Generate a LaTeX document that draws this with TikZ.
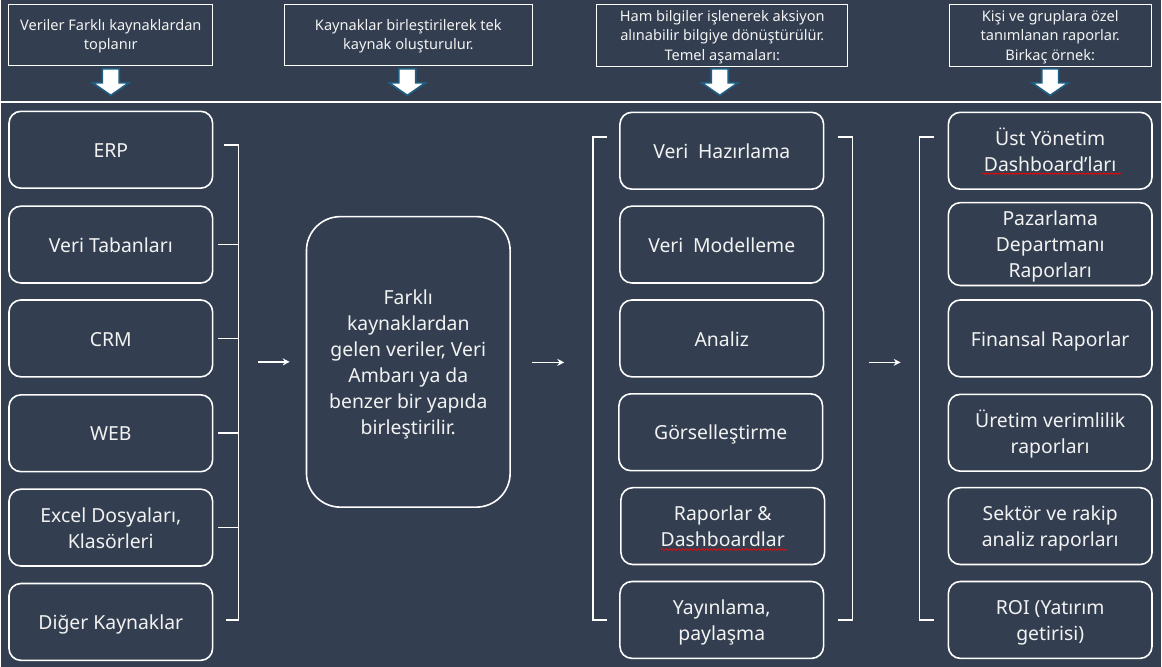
\documentclass[tikz,border=0pt]{standalone}
\usepackage{fontspec}
\setmainfont{Noto Sans}
\usetikzlibrary{arrows.meta,decorations.pathmorphing,calc}
\definecolor{bg}{HTML}{333F50}
\definecolor{arrowedge}{HTML}{1F5F84}
\definecolor{txt}{HTML}{F2F2F2}
\newcommand\boxtxt[2][5pt]{\raisebox{0pt}[\dimexpr\height+#1\relax][\depth]{\begin{tabular}{@{}c@{}}#2\end{tabular}}}
\begin{document}
\begin{tikzpicture}[x=1pt,y=-1pt,
  box/.style={draw=white, line width=1.6pt, rounded corners=12pt, minimum width=204pt, minimum height=77pt, text=txt, font=\fontsize{19.4}{26}\selectfont, inner sep=0pt},
  bigbox/.style={box, rounded corners=34pt, minimum height=291pt},
  topbox/.style={draw=white, line width=1pt, minimum height=61pt, text=txt, font=\fontsize{14.6}{19.5}\selectfont, inner sep=0pt},
  brk/.style={draw=white, line width=1.6pt},
  smallarrow/.style={draw=white, line width=1.6pt, -{Stealth[length=7pt,width=7pt]}},
  downarrow/.style={fill=white, draw=arrowedge, line width=1.6pt, line join=miter},
  squig/.style={draw=red, line width=0.7pt, decorate, decoration={snake, segment length=4pt, amplitude=0.9pt}}
]
\fill[bg] (0,0) rectangle (1162,668);

% top boxes
\node[topbox, minimum width=204pt] (t1) at (110,35.5) {\boxtxt[1pt]{Veriler Farklı kaynaklardan\\toplanır}};
\node[topbox, minimum width=248pt] (t2) at (408,35.5) {\boxtxt[1pt]{Kaynaklar birleştirilerek tek\\kaynak oluşturulur.}};
\node[topbox, minimum width=251pt] (t3) at (722.5,35.5) {\boxtxt[3pt]{Ham bilgiler işlenerek aksiyon\\alınabilir bilgiye dönüştürülür.\\Temel aşamaları:}};
\node[topbox, minimum width=202pt] (t4) at (1051,35.5) {\boxtxt[3pt]{Kişi ve gruplara özel\\tanımlanan raporlar.\\Birkaç örnek:}};

% down arrows
\foreach \cx in {110,407,720,1051}{
  \draw[downarrow] (\cx-8.5,69) -- (\cx+8.5,69) -- (\cx+8.5,83) -- (\cx+18,83) -- (\cx,95.5) -- (\cx-18,83) -- (\cx-8.5,83) -- cycle;
}

% separator line
\draw[white, line width=2pt] (0,102) -- (1162,102);

% left column
\node[box] (erp) at (110,150) {\boxtxt{ERP}};
\node[box] (vt) at (110,245) {\boxtxt{Veri Tabanları}};
\node[box] (crm) at (110,339) {\boxtxt{CRM}};
\node[box] (web) at (110,434) {\boxtxt{WEB}};
\node[box] (excel) at (110,528.5) {\boxtxt{Excel Dosyaları,\\Klasörleri}};
\node[box] (diger) at (110,623) {\boxtxt{Diğer Kaynaklar}};

% center box
\node[bigbox] (dw) at (408,362.5) {\boxtxt{Farklı\\kaynaklardan\\gelen veriler, Veri\\Ambarı ya da\\benzer bir yapıda\\birleştirilir.}};

% middle column
\node[box] (hz) at (722,151) {\boxtxt{Veri\enspace Hazırlama}};
\node[box] (md) at (722,245) {\boxtxt{Veri\enspace Modelleme}};
\node[box] (an) at (722,339) {\boxtxt{Analiz}};
\node[box] (gr) at (721,433) {\boxtxt{Görselleştirme}};
\node[box] (rp) at (723,527) {\boxtxt{Raporlar \&\\Dashboardlar}};
\node[box] (yy) at (722,621) {\boxtxt{Yayınlama,\\paylaşma}};

% right column
\node[box] (ust) at (1051,151) {\boxtxt{Üst Yönetim\\Dashboard’ları}};
\node[box] (paz) at (1051,244.5) {\boxtxt{Pazarlama\\Departmanı\\Raporları}};
\node[box] (fin) at (1051,339) {\boxtxt{Finansal Raporlar}};
\node[box] (ur) at (1051,433.5) {\boxtxt{Üretim verimlilik\\raporları}};
\node[box] (sek) at (1051,527) {\boxtxt{Sektör ve rakip\\analiz raporları}};
\node[box] (roi) at (1051,621) {\boxtxt{ROI (Yatırım\\getirisi)}};

% spell-check squiggles
\draw[squig] (983,174) -- (1122,174);
\draw[squig] (661,550.5) -- (787,550.5);

% left bracket
\draw[brk] (223,145) -- (238,145) -- (238,621) -- (225,621);
\foreach \n in {vt,crm,web,excel}{
  \draw[brk] ($(\n.east)+(5,0)$) -- ($(\n.east)+(26,0)$);
}
% middle brackets
\draw[brk] (607,137) -- (593,137) -- (593,621) -- (607,621);
\draw[brk] (838,137) -- (853,137) -- (853,621) -- (838,621);
% right bracket
\draw[brk] (935,137) -- (920,137) -- (920,621) -- (935,621);

% small arrows
\coordinate (a1s) at ($(dw.west)+(-48,0)$);
\coordinate (a1e) at ($(dw.west)+(-16,0)$);
\coordinate (a2s) at ($(an.west)+(-87,24)$);
\coordinate (a2e) at ($(an.west)+(-55,24)$);
\coordinate (a3s) at ($(fin.west)+(-79,24)$);
\coordinate (a3e) at ($(fin.west)+(-47,24)$);
\draw[smallarrow] (a1s) -- (a1e);
\draw[smallarrow] (a2s) -- (a2e);
\draw[smallarrow] (a3s) -- (a3e);
\end{tikzpicture}
\end{document}
